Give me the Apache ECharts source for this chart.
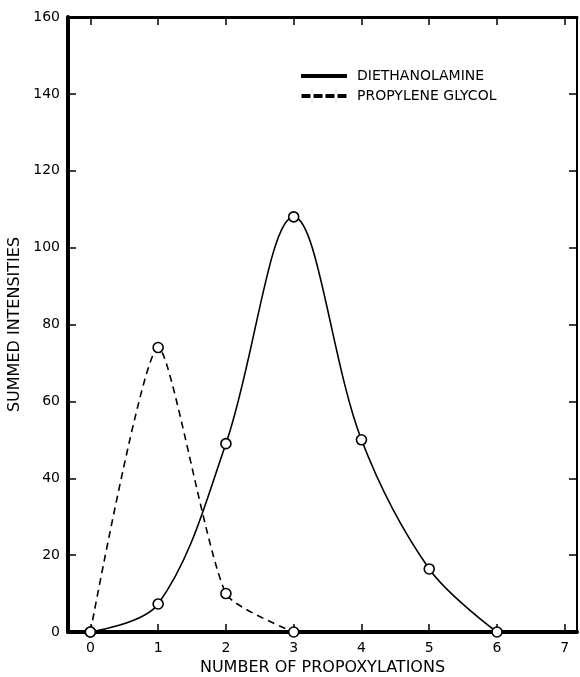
<!DOCTYPE html>
<html>
<head>
<meta charset="utf-8">
<script src="https://cdn.jsdelivr.net/npm/echarts@6/dist/echarts.min.js"></script>
<style>
  html, body { margin: 0; padding: 0; background: #fff; }
  #chart { width: 580px; height: 677px; }
</style>
</head>
<body>
<div id="chart"></div>
<script>
// values
const xTicks = [0, 1, 2, 3, 4, 5, 6, 7];
const yTicks = [0, 20, 40, 60, 80, 100, 120, 140, 160];
const diethanolamineX = [0, 1, 2, 3, 4, 5, 6];
const diethanolamineY = [0, 7.3, 49, 108, 50, 16.4, 0];
const glycolX = [0, 1, 2, 3];
const glycolY = [0, 74, 10, 0];

const FONT = '"DejaVu Sans", "Liberation Sans", sans-serif';
const ink = '#000';

const chart = echarts.init(document.getElementById('chart'));

// legend icons: plain line and a dashed line
const solidIcon = 'path://M0,0h44v2h-44z';
const dashIcon = 'path://M0,0h7v2h-7z M12,0h7v2h-7z M24,0h7v2h-7z M36,0h7v2h-7z';

const pointStyle = {
  color: '#fff',
  borderColor: ink,
  borderWidth: 1.6
};

const option = {
  animation: false,
  backgroundColor: '#fff',
  grid: { left: 68, right: 3, top: 17, bottom: 45, outerBoundsMode: 'none', containLabel: false },
  legend: {
    orient: 'vertical',
    left: 296,
    top: 64,
    itemGap: 6,
    itemWidth: 44,
    itemHeight: 2,
    textStyle: { fontFamily: FONT, fontSize: 14, color: ink, padding: [0, 0, 0, 6] },
    data: [
      { name: 'DIETHANOLAMINE', icon: solidIcon, itemStyle: { color: ink } },
      { name: 'PROPYLENE GLYCOL', icon: dashIcon, itemStyle: { color: ink } }
    ]
  },
  xAxis: [
    {
      type: 'value',
      min: -0.33,
      max: 7.18,
      name: 'NUMBER OF PROPOXYLATIONS',
      nameLocation: 'middle',
      nameGap: 28,
      nameTextStyle: { fontFamily: FONT, fontSize: 16, color: ink },
      axisLine: { onZero: false, lineStyle: { color: ink, width: 4 } },
      axisTick: { inside: true, length: 8, customValues: xTicks, lineStyle: { color: ink, width: 1.5 } },
      axisLabel: { customValues: xTicks, margin: 9, fontFamily: FONT, fontSize: 14, color: ink },
      splitLine: { show: false }
    },
    {
      type: 'value',
      position: 'top',
      min: -0.33,
      max: 7.18,
      axisLine: { show: true, onZero: false, lineStyle: { color: ink, width: 3 } },
      axisTick: { show: true, inside: true, length: 8, customValues: xTicks, lineStyle: { color: ink, width: 1.5 } },
      axisLabel: { show: false },
      splitLine: { show: false }
    }
  ],
  yAxis: [
    {
      type: 'value',
      min: 0,
      max: 160,
      interval: 20,
      name: 'SUMMED INTENSITIES',
      nameLocation: 'middle',
      nameGap: 43,
      nameTextStyle: { fontFamily: FONT, fontSize: 16, color: ink },
      axisLine: { show: true, onZero: false, lineStyle: { color: ink, width: 4 } },
      axisTick: { show: true, inside: true, length: 8, lineStyle: { color: ink, width: 1.5 } },
      axisLabel: { margin: 8, fontFamily: FONT, fontSize: 14, color: ink },
      splitLine: { show: false }
    },
    {
      type: 'value',
      position: 'right',
      min: 0,
      max: 160,
      interval: 20,
      axisLine: { show: true, onZero: false, lineStyle: { color: ink, width: 2 } },
      axisTick: { show: true, inside: true, length: 8, lineStyle: { color: ink, width: 1.5 } },
      axisLabel: { show: false },
      splitLine: { show: false }
    }
  ],
  series: [
    {
      name: 'DIETHANOLAMINE',
      type: 'line',
      data: diethanolamineX.map((x, i) => [x, diethanolamineY[i]]),
      smooth: 0.35,
      symbol: 'circle',
      symbolSize: 10,
      lineStyle: { color: ink, width: 1.6 },
      itemStyle: pointStyle,
      z: 3
    },
    {
      name: 'PROPYLENE GLYCOL',
      type: 'line',
      data: glycolX.map((x, i) => [x, glycolY[i]]),
      smooth: 0.2,
      symbol: 'circle',
      symbolSize: 10,
      lineStyle: { color: ink, width: 1.6, type: [7, 5] },
      itemStyle: pointStyle,
      z: 3
    }
  ]
};

chart.setOption(option);
</script>
</body>
</html>
